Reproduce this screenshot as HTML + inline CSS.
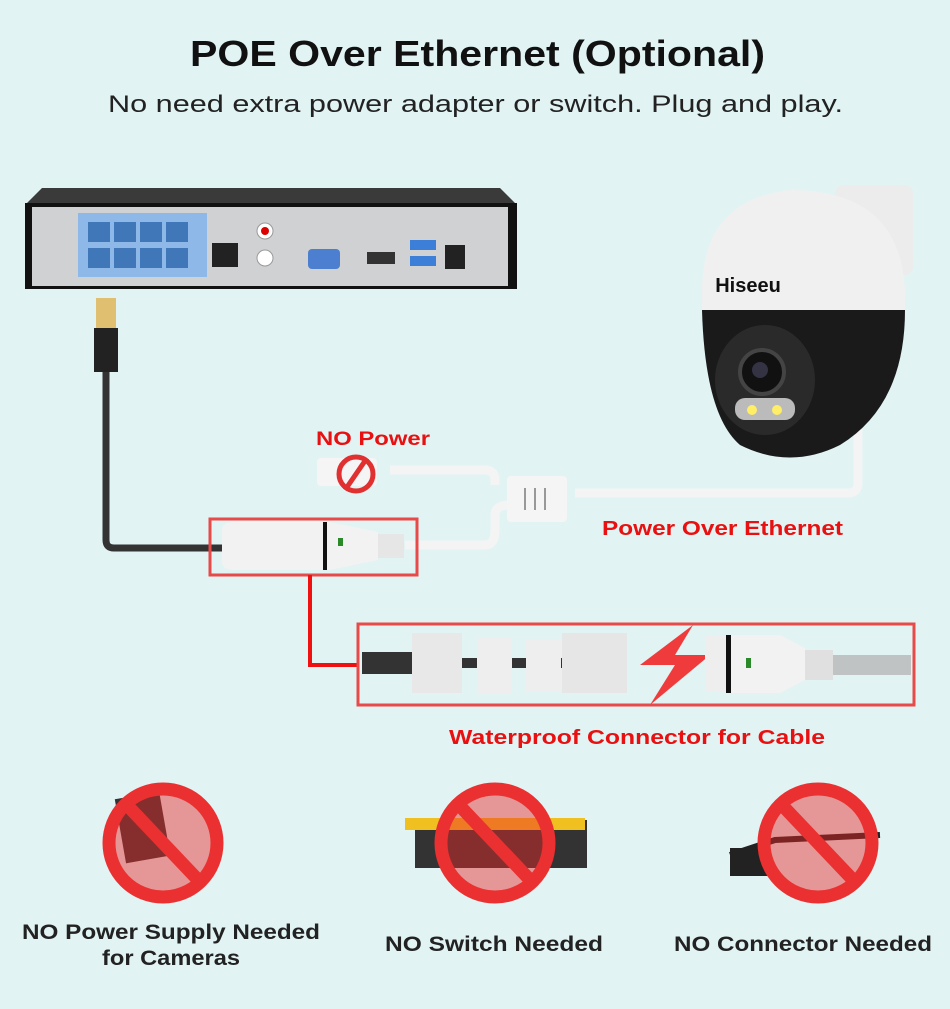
<!DOCTYPE html>
<html><head><meta charset="utf-8"><style>
body{margin:0;width:950px;height:1004px;background:#e1f3f3;overflow:hidden;font-family:"Liberation Sans",sans-serif}
</style></head><body>
<svg width="950" height="1004" viewBox="0 0 950 1004" xmlns="http://www.w3.org/2000/svg">
<rect width="950" height="1004" fill="#e1f3f3"/>
<text x="190" y="66" textLength="575" lengthAdjust="spacingAndGlyphs" font-family="Liberation Sans" font-weight="bold" font-size="36" fill="#111">POE Over Ethernet (Optional)</text>
<text x="108" y="112" textLength="735" lengthAdjust="spacingAndGlyphs" font-family="Liberation Sans" font-size="24" fill="#222">No need extra power adapter or switch. Plug and play.</text>
<!-- NVR -->
<polygon points="42,188 500,188 517,205 25,205" fill="#3a3a3a"/>
<rect x="25" y="203" width="492" height="86" fill="#111"/>
<rect x="32" y="207" width="476" height="79" fill="#cfd1d3"/>
<rect x="78" y="213" width="129" height="64" fill="#8db8e8"/>
<g fill="#3f77b8">
<rect x="88" y="222" width="22" height="20"/><rect x="114" y="222" width="22" height="20"/><rect x="140" y="222" width="22" height="20"/><rect x="166" y="222" width="22" height="20"/>
<rect x="88" y="248" width="22" height="20"/><rect x="114" y="248" width="22" height="20"/><rect x="140" y="248" width="22" height="20"/><rect x="166" y="248" width="22" height="20"/>
</g>
<rect x="212" y="243" width="26" height="24" fill="#222"/>
<circle cx="265" cy="231" r="8" fill="#fff" stroke="#999"/><circle cx="265" cy="231" r="4" fill="#d00"/>
<circle cx="265" cy="258" r="8" fill="#fff" stroke="#999"/>
<rect x="308" y="249" width="32" height="20" rx="4" fill="#4c7fd0"/>
<rect x="367" y="252" width="28" height="12" fill="#333"/>
<rect x="410" y="240" width="26" height="10" fill="#3b7fd8"/><rect x="410" y="256" width="26" height="10" fill="#3b7fd8"/>
<rect x="445" y="245" width="20" height="24" fill="#222"/>
<!-- RJ45 plug and black cable -->
<rect x="96" y="298" width="20" height="30" fill="#e0c070"/>
<rect x="94" y="328" width="24" height="44" fill="#222"/>
<path d="M106,372 V540 Q106,548 114,548 H222" stroke="#333" stroke-width="7" fill="none"/>
<!-- white cables -->
<path d="M405,545 H485 Q495,545 495,530 V515 Q495,505 510,505" stroke="#f4f4f4" stroke-width="9" fill="none"/>
<path d="M390,470 H485 Q495,470 495,480 V485" stroke="#f4f4f4" stroke-width="9" fill="none"/>
<path d="M575,493 H848 Q858,493 858,483 V430" stroke="#f4f4f4" stroke-width="9" fill="none"/>
<rect x="317" y="458" width="60" height="28" rx="4" fill="#f5f5f5"/>
<rect x="507" y="476" width="60" height="46" rx="4" fill="#f5f5f5"/>
<path d="M525,488 V510 M535,488 V510 M545,488 V510" stroke="#999" stroke-width="2"/>
<circle cx="356" cy="474" r="17" fill="none" stroke="#e03030" stroke-width="5"/>
<line x1="345" y1="490" x2="367" y2="458" stroke="#e03030" stroke-width="5"/>
<text x="316" y="445" textLength="114" lengthAdjust="spacingAndGlyphs" font-family="Liberation Sans" font-weight="bold" font-size="19" fill="#e81010">NO Power</text>
<text x="602" y="535" textLength="241" lengthAdjust="spacingAndGlyphs" font-family="Liberation Sans" font-weight="bold" font-size="20" fill="#e81010">Power Over Ethernet</text>
<!-- connector 1 -->
<path d="M222,530 Q222,522 235,522 H330 L378,532 V560 L330,570 H235 Q222,570 222,562 Z" fill="#f2f2f2"/>
<rect x="323" y="522" width="4" height="48" fill="#111"/>
<rect x="338" y="538" width="5" height="8" fill="#2a8a2a"/>
<rect x="378" y="534" width="26" height="24" fill="#e6e6e6"/>
<rect x="210" y="519" width="207" height="56" fill="none" stroke="#e84a4a" stroke-width="3"/>
<path d="M310,575 V665 H358" stroke="#f01010" stroke-width="4" fill="none"/>
<!-- waterproof box -->
<rect x="358" y="624" width="556" height="81" fill="none" stroke="#e84a4a" stroke-width="3"/>
<rect x="362" y="652" width="50" height="22" fill="#333"/>
<rect x="412" y="633" width="50" height="60" fill="#e8e8e8"/>
<rect x="462" y="658" width="100" height="10" fill="#333"/>
<rect x="477" y="637" width="35" height="56" fill="#eee"/>
<rect x="526" y="640" width="35" height="52" fill="#eee"/>
<rect x="562" y="633" width="65" height="60" fill="#e6e6e6"/>
<polygon points="693,625 640,665 675,665 650,705 710,655 675,655" fill="#ef3b3b"/>
<rect x="705" y="635" width="20" height="56" fill="#eee"/>
<rect x="726" y="635" width="5" height="58" fill="#111"/>
<path d="M731,635 H780 L805,648 V680 L780,693 H731 Z" fill="#f2f2f2"/>
<rect x="746" y="658" width="5" height="10" fill="#2a8a2a"/>
<rect x="805" y="650" width="28" height="30" fill="#e0e0e0"/>
<rect x="833" y="655" width="78" height="20" fill="#bfc3c3"/>
<text x="449" y="744" textLength="376" lengthAdjust="spacingAndGlyphs" font-family="Liberation Sans" font-weight="bold" font-size="20" fill="#e81010">Waterproof Connector for Cable</text>
<!-- camera -->
<rect x="835" y="185" width="78" height="90" rx="8" fill="#ececec"/>
<path d="M702,295 Q700,200 790,190 Q900,190 905,290 V310 H702 Z" fill="#f0f0f0"/>
<path d="M702,310 H905 Q905,405 840,445 Q790,470 740,445 Q705,415 702,310 Z" fill="#1a1a1a"/>
<ellipse cx="765" cy="380" rx="50" ry="55" fill="#2a2a2a"/>
<circle cx="762" cy="372" r="22" fill="#111" stroke="#444" stroke-width="4"/>
<circle cx="760" cy="370" r="8" fill="#334"/>
<rect x="735" y="398" width="60" height="22" rx="10" fill="#bbb"/>
<circle cx="752" cy="410" r="5" fill="#ffee66"/><circle cx="777" cy="410" r="5" fill="#ffee66"/>
<text x="748" y="292" text-anchor="middle" font-family="Liberation Sans" font-weight="bold" font-size="20" fill="#111">Hiseeu</text>
<!-- bottom icons -->
<g>
<rect x="120" y="795" width="45" height="65" fill="#333" transform="rotate(-10 142 827)"/>
<rect x="415" y="820" width="172" height="48" fill="#333"/>
<rect x="405" y="818" width="180" height="12" fill="#f0c020"/>
<path d="M730,855 L775,840 L880,835" stroke="#222" stroke-width="6" fill="none"/>
<rect x="730" y="848" width="40" height="28" fill="#222"/>
<g fill="rgba(235,40,40,0.45)" stroke="#ea3030" stroke-width="13">
<circle cx="163" cy="843" r="54"/><circle cx="495" cy="843" r="54"/><circle cx="818" cy="843" r="54"/>
</g>
<g stroke="#ea3030" stroke-width="13">
<line x1="126" y1="804" x2="200" y2="882"/><line x1="458" y1="804" x2="532" y2="882"/><line x1="781" y1="804" x2="855" y2="882"/>
</g>
</g>
<g font-family="Liberation Sans" font-weight="bold" font-size="21" fill="#222" lengthAdjust="spacingAndGlyphs">
<text x="22" y="939" textLength="298" lengthAdjust="spacingAndGlyphs">NO Power Supply Needed</text>
<text x="102" y="965" textLength="138" lengthAdjust="spacingAndGlyphs">for Cameras</text>
<text x="385" y="951" textLength="218" lengthAdjust="spacingAndGlyphs">NO Switch Needed</text>
<text x="674" y="951" textLength="258" lengthAdjust="spacingAndGlyphs">NO Connector Needed</text>
</g>
</svg>
</body></html>
